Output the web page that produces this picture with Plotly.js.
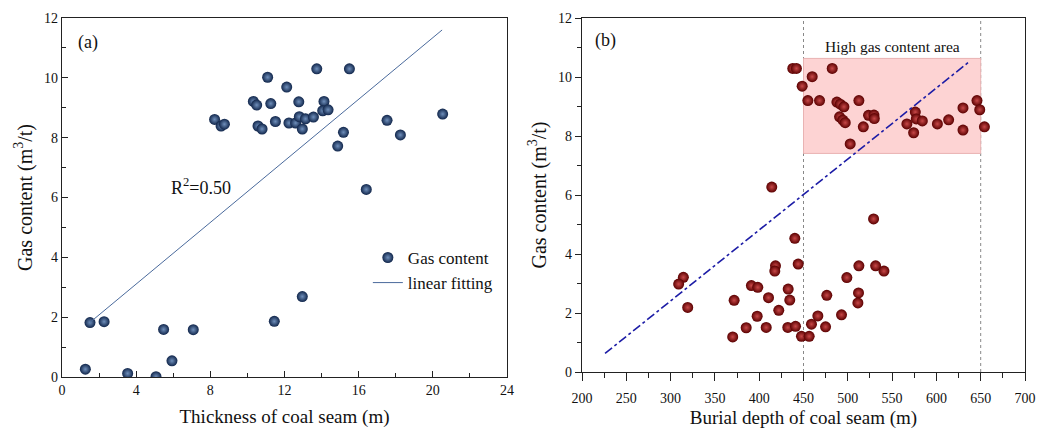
<!DOCTYPE html>
<html>
<head>
<meta charset="utf-8">
<script src="https://cdn.plot.ly/plotly-3.0.1.min.js"></script>
<style>html,body{margin:0;padding:0;background:#fff;}#chart{width:1051px;height:430px;}</style>
</head>
<body>
<div id="chart"></div>
<script>
// ---- Panel (a): thickness vs gas content ----
const thickness = [11.09, 13.74, 15.50, 12.12, 10.32, 10.50, 11.26, 12.77, 14.13, 14.06, 14.35,
  8.23, 8.58, 8.76, 10.57, 10.79, 11.51, 12.24, 12.60, 12.80, 13.13, 13.56, 12.96, 15.18, 14.87,
  17.53, 18.25, 20.53, 16.41,
  1.51, 2.27, 5.48, 7.08, 11.45, 12.96, 5.93, 1.26, 3.54, 5.07];
const gasA = [10.02, 10.30, 10.30, 9.69, 9.21, 9.09, 9.14, 9.20, 9.21, 8.90, 8.93,
  8.61, 8.39, 8.45, 8.39, 8.29, 8.54, 8.49, 8.49, 8.70, 8.63, 8.69, 8.29, 8.18, 7.72,
  8.58, 8.09, 8.79, 6.27,
  1.82, 1.85, 1.59, 1.58, 1.86, 2.69, 0.54, 0.26, 0.12, 0.01];
const fitThickness = [1.5, 20.5];
const fitGasA = [1.82, 11.60];
const r2Label = "R<sup>2</sup>=0.50";

// ---- Panel (b): burial depth vs gas content ----
const depth = [437.9, 442.0, 459.8, 448.5, 482.4, 454.9, 468.1, 487.7, 491.5, 495.6, 512.5,
  490.7, 494.4, 497.1, 523.4, 529.5, 529.9, 517.5, 502.7, 576.2, 577.3, 584.1, 566.7, 574.3,
  601.1, 613.8, 630.0, 630.0, 645.8, 648.9, 654.2, 414.2,
  529.1, 440.2, 418.4, 417.6, 444.0, 512.5, 531.4, 540.8, 498.9, 314.4, 309.1, 319.3,
  371.7, 391.2, 398.4, 432.7, 410.5, 434.5, 476.3, 512.1, 511.4, 422.1, 397.7, 466.2,
  492.9, 385.3, 407.9, 432.3, 441.0, 474.9, 459.0, 370.1, 447.7, 456.4];
const gasB = [10.29, 10.29, 10.01, 9.69, 10.29, 9.20, 9.20, 9.15, 9.08, 8.99, 9.20,
  8.65, 8.54, 8.45, 8.70, 8.71, 8.59, 8.31, 7.73, 8.81, 8.58, 8.51, 8.41, 8.11,
  8.41, 8.55, 8.95, 8.20, 9.20, 8.89, 8.31, 6.27,
  5.19, 4.53, 3.60, 3.42, 3.66, 3.60, 3.60, 3.42, 3.20, 3.21, 2.98, 2.19,
  2.43, 2.93, 2.87, 2.81, 2.52, 2.44, 2.60, 2.68, 2.34, 2.09, 1.89, 1.90,
  1.94, 1.50, 1.51, 1.51, 1.55, 1.53, 1.62, 1.19, 1.21, 1.21];
const trendDepth = [226, 638];
const trendGasB = [0.63, 10.54];
const highAreaDepth = [450, 650];
const highAreaGas = [7.41, 10.63];
const highAreaLabel = "High gas content area";

const serif = "Liberation Serif, Times New Roman, serif";

const traces = [
  {x: thickness, y: gasA, type: 'scatter', mode: 'markers', name: 'Gas content',
   xaxis: 'x', yaxis: 'y',
   marker: {size: 11, color: '#10254a', gradient: {type: 'radial', color: '#6f8fbb'}, line: {width: 0}}},
  {x: fitThickness, y: fitGasA, type: 'scatter', mode: 'lines', name: 'linear fitting',
   xaxis: 'x', yaxis: 'y', line: {color: '#4a6a9c', width: 1}},
  {x: depth, y: gasB, type: 'scatter', mode: 'markers', name: 'Gas content (b)', showlegend: false,
   xaxis: 'x2', yaxis: 'y2',
   marker: {size: 11, color: '#5a0000', gradient: {type: 'radial', color: '#c84848'}, line: {width: 0}}},
  {x: trendDepth, y: trendGasB, type: 'scatter', mode: 'lines', showlegend: false,
   xaxis: 'x2', yaxis: 'y2', line: {color: '#1c1ca6', width: 1.6, dash: 'dashdot'}}
];

const axisBase = {
  showline: true, linecolor: '#222', linewidth: 1.3, mirror: true, showgrid: false, zeroline: false,
  tickfont: {family: serif, size: 14, color: '#111'}, tickcolor: '#222', ticklen: 6, tickwidth: 1
};

const layout = {
  width: 1051, height: 430, autosize: false,
  margin: {l: 0, r: 0, t: 0, b: 0},
  paper_bgcolor: '#fff', plot_bgcolor: '#fff',
  showlegend: true,
  legend: {x: 0.350, y: 0.442, xanchor: 'left', yanchor: 'top', bgcolor: 'rgba(0,0,0,0)',
           font: {family: serif, size: 17, color: '#111'}, tracegroupgap: 0},
  xaxis: Object.assign({}, axisBase, {
    domain: [62/1051, 507/1051], range: [0, 24], dtick: 4, ticks: 'inside',
    minor: {dtick: 2, ticks: 'inside', ticklen: 4, tickcolor: '#222'},
    anchor: 'y',
    title: {text: 'Thickness of coal seam (m)', font: {family: serif, size: 19, color: '#111'}, standoff: 12}
  }),
  yaxis: Object.assign({}, axisBase, {
    domain: [53/430, 412/430], range: [0, 12], dtick: 2, ticks: 'inside',
    minor: {dtick: 1, ticks: 'inside', ticklen: 4, tickcolor: '#222'},
    anchor: 'x',
    title: {text: 'Gas content (m<sup>3</sup>/t)', font: {family: serif, size: 20, color: '#111'}, standoff: 6}
  }),
  xaxis2: Object.assign({}, axisBase, {
    domain: [582/1051, 1025/1051], range: [200, 700], dtick: 50, ticks: 'outside', ticklen: 8,
    ticklabelstandoff: 5,
    minor: {dtick: 25, ticks: 'outside', ticklen: 5, tickcolor: '#222'},
    anchor: 'y2',
    title: {text: 'Burial depth of coal seam (m)', font: {family: serif, size: 19, color: '#111'}, standoff: 5}
  }),
  yaxis2: Object.assign({}, axisBase, {
    domain: [58/430, 412/430], range: [0, 12], dtick: 2, ticks: 'outside',
    minor: {dtick: 1, ticks: 'outside', ticklen: 4, tickcolor: '#222'},
    anchor: 'x2',
    title: {text: 'Gas content (m<sup>3</sup>/t)', font: {family: serif, size: 20, color: '#111'}, standoff: 6}
  }),
  shapes: [
    {type: 'rect', xref: 'x2', yref: 'y2', x0: highAreaDepth[0], x1: highAreaDepth[1],
     y0: highAreaGas[0], y1: highAreaGas[1], fillcolor: '#fdd3d3',
     line: {color: '#e9b3b3', width: 1}, layer: 'below'},
    {type: 'line', xref: 'x2', yref: 'y2 domain', x0: highAreaDepth[0], x1: highAreaDepth[0], y0: 0, y1: 1,
     line: {color: '#888', width: 1, dash: 'dot'}, layer: 'below'},
    {type: 'line', xref: 'x2', yref: 'y2 domain', x0: highAreaDepth[1], x1: highAreaDepth[1], y0: 0, y1: 1,
     line: {color: '#888', width: 1, dash: 'dot'}, layer: 'below'}
  ],
  annotations: [
    {xref: 'x', yref: 'y', x: 1.4, y: 11.18, text: '(a)', showarrow: false,
     font: {family: serif, size: 18, color: '#111'}},
    {xref: 'x2', yref: 'y2', x: 226, y: 11.23, text: '(b)', showarrow: false,
     font: {family: serif, size: 18, color: '#111'}},
    {xref: 'x', yref: 'y', x: 7.5, y: 6.36, text: r2Label, showarrow: false,
     font: {family: serif, size: 18, color: '#111'}},
    {xref: 'x2', yref: 'y2', x: 550.5, y: 11.03, text: highAreaLabel, showarrow: false,
     font: {family: serif, size: 15.5, color: '#111'}}
  ]
};

Plotly.newPlot('chart', traces, layout, {displayModeBar: false, staticPlot: true});
</script>
</body>
</html>
